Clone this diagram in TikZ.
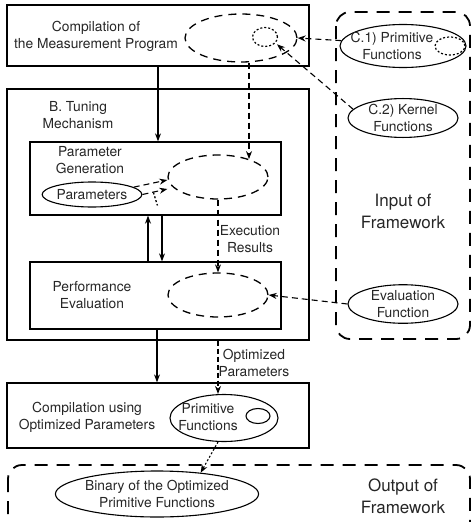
\documentclass[tikz,border=0pt]{standalone}
\usepackage{fontspec}
\setmainfont{TeX Gyre Heros}
\usetikzlibrary{shapes.geometric,arrows.meta,calc}
\begin{document}
\begin{tikzpicture}[x=1pt,y=-1pt,
  txt/.style={inner sep=0pt, align=center, text=black!85, font=\fontsize{13.8}{17}\selectfont},
  bigtxt/.style={inner sep=0pt, align=center, text=black!85, font=\fontsize{17}{22}\selectfont},
  boxnode/.style={draw, line width=1.3pt, inner sep=0pt},
  ell/.style={draw, ellipse, line width=1.1pt, inner sep=0pt, text=black!85, align=center, font=\fontsize{13.8}{17}\selectfont},
  dell/.style={draw, ellipse, line width=1.3pt, inner sep=0pt, dash pattern=on 8pt off 6pt},
  dotell/.style={draw, ellipse, line width=1.2pt, inner sep=0pt, dash pattern=on 2pt off 2pt},
  arr/.style={line width=1.1pt, -{Stealth[length=8pt,width=6pt]}},
  darr/.style={arr, dash pattern=on 6pt off 4pt},
  darrfine/.style={arr, dash pattern=on 5pt off 3pt},
  dotarr/.style={arr, dash pattern=on 2pt off 2pt},
  dotline/.style={line width=1.3pt, dash pattern=on 2pt off 2pt},
  fwbox/.style={draw, line width=1.8pt, dash pattern=on 13pt off 9pt, rounded corners=14pt}
]
\useasboundingbox (0,0) rectangle (475,522);

% framework frames
\draw[fwbox] (336,12) rectangle (470,339);
\draw[fwbox] (8,465) rectangle (470,545);

% boxes
\node[boxnode, minimum width=302pt, minimum height=61pt] (tb) at (158,35.5) {};
\node[boxnode, minimum width=302pt, minimum height=251pt] (bb) at (158,214.5) {};
\node[boxnode, minimum width=251pt, minimum height=73pt] (pg) at (155.5,178.5) {};
\node[boxnode, minimum width=251pt, minimum height=67pt] (pe) at (155.5,295.5) {};
\node[boxnode, minimum width=302pt, minimum height=65pt] (cb) at (158,415.5) {};

% box texts
\node[txt] (tbt) at (96,36) {Compilation of\\the Measurement Program};
\node[txt] (bbt) at (78,115) {B. Tuning\\Mechanism};
\node[txt] (pgt) at (90,160) {Parameter\\Generation};
\node[txt] (pet) at (92,295) {Performance\\Evaluation};
\node[txt] (cbt) at (87,417) {Compilation using\\Optimized Parameters};
\node[txt] (ert) at (250,239) {Execution\\Results};
\node[txt] (opt) at (254,363) {Optimized\\Parameters};
\node[bigtxt] (inf) at (403,211) {Input of\\Framework};
\node[bigtxt] (outf) at (403,496) {Output of\\Framework};

% dashed ellipses
\node[dell, minimum width=112pt, minimum height=48pt] (te) at (241,38) {};
\node[dotell, minimum width=25pt, minimum height=19pt] (sd) at (265,37) {};
\node[dell, minimum width=100pt, minimum height=44pt] (pel) at (218,177) {};
\node[dell, minimum width=100pt, minimum height=44pt] (pfel) at (218,295) {};

% input ellipses
\node[ell, minimum width=126pt, minimum height=43pt] (c1) at (403,46) {};
\node[dotell, minimum width=30pt, minimum height=18pt] (c1d) at (450,46) {};
\node[txt] (c1t) at (392,46) {C.1) Primitive\\Functions};
\node[ell, minimum width=110pt, minimum height=32pt] (c2) at (403,118) {C.2) Kernel\\Functions};
\node[ell, minimum width=110pt, minimum height=38pt] (ef) at (403,304) {Evaluation\\Function};

% parameters
\node[ell, minimum width=90pt, minimum height=25pt] (par) at (92,194.5) {Parameters};

% primitive functions in compilation box
\node[ell, minimum width=108pt, minimum height=47pt] (prim) at (224,418) {};
\node[txt] (primt) at (208,417) {Primitive\\Functions};
\node[ell, minimum width=24pt, minimum height=15pt] (prims) at (258,416) {};

% output binary
\node[ell, minimum width=198pt, minimum height=46pt] (bin) at (157,494) {Binary of the Optimized\\Primitive Functions};

% solid connectors
\draw[arr] (tb.south) -- (tb.south |- pg.north);
\draw[arr] ([xshift=-7.5pt]pe.north) -- ([xshift=-7.5pt]pg.south);
\draw[arr] ([xshift=6.5pt]pg.south) -- ([xshift=6.5pt]pe.north);
\draw[arr] ([xshift=1.5pt]pe.south) -- ([xshift=1.5pt]pe.south |- cb.north);

% dashed connectors
\draw[darr] (c1.175) -- (te.east);
\draw[darr, shorten >=2pt] (c2.170) -- (sd.-30);
\draw[darr] (pel.30 |- te.south) -- (pel.30);
\draw[darr] (par.10) -- ([yshift=-3pt]pel.west);
\draw[darr] (par.east) -- ([yshift=-12pt]pel.west);
\draw[dotline] ($(par.east)+(11,-2)$) -- ($(par.east)+(15,11)$);
\draw[darr] (pel.south) -- (pfel.north);
\draw[darr] (ef.west) -- (pfel.east);
\draw[darrfine] (pfel.south |- bb.south) -- (pfel.south |- prim.north);
\draw[dotarr] (prim.256) -- (bin.26);
\end{tikzpicture}
\end{document}
